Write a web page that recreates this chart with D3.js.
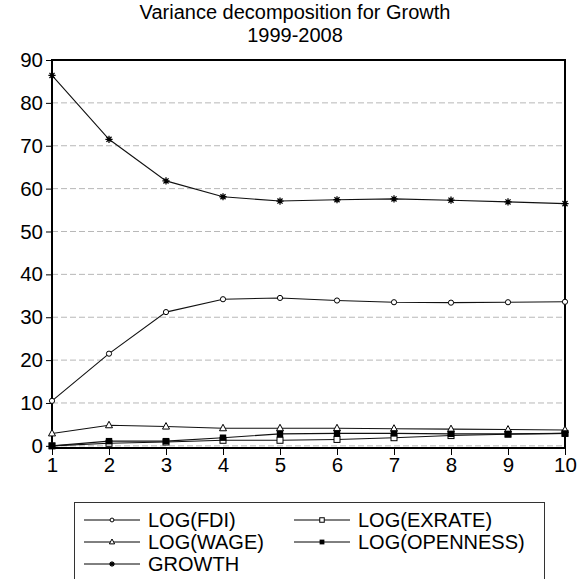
<!DOCTYPE html>
<html>
<head>
<meta charset="utf-8">
<script src="https://cdn.jsdelivr.net/npm/d3@7"></script>
<style>
  body { margin: 0; background: #fff; }
  svg { display: block; font-family: "Liberation Sans", Arial, sans-serif; }
</style>
</head>
<body>
<div id="chart"></div>
<script>
// Variance decomposition data
const steps = [1, 2, 3, 4, 5, 6, 7, 8, 9, 10];
const fdi = [10.5, 21.5, 31.2, 34.2, 34.5, 33.9, 33.5, 33.4, 33.5, 33.6];
const exrate = [0.0, 0.6, 0.9, 1.3, 1.3, 1.5, 1.9, 2.4, 2.7, 2.9];
const wage = [2.9, 4.8, 4.5, 4.1, 4.1, 4.1, 4.0, 3.9, 3.8, 3.7];
const openness = [0.0, 1.1, 1.1, 1.9, 2.8, 2.9, 2.9, 2.8, 2.8, 2.9];
const growth = [86.4, 71.5, 61.8, 58.1, 57.1, 57.4, 57.6, 57.3, 56.9, 56.5];
const yTicks = [0, 10, 20, 30, 40, 50, 60, 70, 80, 90];
const gridTicks = [0, 10, 20, 30, 40, 50, 60, 70, 80];

const seriesList = [
  { name: "LOG(FDI)", values: fdi, marker: "circle" },
  { name: "LOG(EXRATE)", values: exrate, marker: "square" },
  { name: "LOG(WAGE)", values: wage, marker: "triangle" },
  { name: "LOG(OPENNESS)", values: openness, marker: "filled" },
  { name: "GROWTH", values: growth, marker: "star" }
];

const w = 579, h = 579;
const padLeft = 52, padRight = 565, padTop = 60, padBottom = 448;

const svg = d3.select("#chart").append("svg")
  .attr("width", w).attr("height", h);

const x = d3.scaleLinear().domain([1, 10]).range([padLeft, padRight]);
const y = d3.scaleLinear().domain([-0.5, 90]).range([padBottom, padTop]);

// title
svg.append("text").attr("x", 295).attr("y", 19).attr("text-anchor", "middle")
  .attr("font-size", 20).text("Variance decomposition for Growth");
svg.append("text").attr("x", 295).attr("y", 42).attr("text-anchor", "middle")
  .attr("font-size", 20).text("1999-2008");

// gridlines
svg.append("g").selectAll("line").data(gridTicks).enter().append("line")
  .attr("x1", padLeft).attr("x2", padRight)
  .attr("y1", d => y(d)).attr("y2", d => y(d))
  .attr("stroke", "#b8b8b8").attr("stroke-width", 1)
  .attr("stroke-dasharray", "6,3");

// axes
const yAxis = d3.axisLeft(y).tickValues(yTicks).tickSize(6).tickPadding(3);
const xAxis = d3.axisBottom(x).tickValues(steps).tickSize(7).tickPadding(2)
  .tickFormat(d3.format("d"));

const gy = svg.append("g").attr("transform", "translate(" + padLeft + ",0)").call(yAxis);
gy.select(".domain").remove();
gy.selectAll("text").attr("font-size", 20.5).attr("fill", "#000");
gy.selectAll("line").attr("stroke", "#000");

const gx = svg.append("g").attr("transform", "translate(0," + padBottom + ")").call(xAxis);
gx.select(".domain").remove();
gx.selectAll("text").attr("font-size", 20.5).attr("fill", "#000");
gx.selectAll("line").attr("stroke", "#000");

// frame
svg.append("rect").attr("x", padLeft).attr("y", padTop)
  .attr("width", padRight - padLeft).attr("height", padBottom - padTop)
  .attr("fill", "none").attr("stroke", "#000").attr("stroke-width", 2);

// markers
function drawMarker(g, type, cx, cy, k) {
  k = k || 1;
  if (type === "circle") {
    g.append("circle").attr("cx", cx).attr("cy", cy).attr("r", 2.6 * k)
      .attr("fill", "#fff").attr("stroke", "#000").attr("stroke-width", 1);
  } else if (type === "square") {
    g.append("rect").attr("x", cx - 3 * k).attr("y", cy - 3 * k).attr("width", 6 * k).attr("height", 6 * k)
      .attr("fill", "#fff").attr("stroke", "#000").attr("stroke-width", 1);
  } else if (type === "filled") {
    g.append("rect").attr("x", cx - 3.2 * k).attr("y", cy - 3.2 * k).attr("width", 6.4 * k).attr("height", 6.4 * k)
      .attr("fill", "#000");
  } else if (type === "triangle") {
    g.append("path").attr("d", "M" + cx + "," + (cy - 4 * k) + "L" + (cx + 3.5 * k) + "," + (cy + 2.5 * k) +
      "L" + (cx - 3.5 * k) + "," + (cy + 2.5 * k) + "Z")
      .attr("fill", "#fff").attr("stroke", "#000").attr("stroke-width", 1);
  } else if (type === "star") {
    const r = 3.6 * k;
    let d = "";
    for (let i = 0; i < 4; i++) {
      const a = i * Math.PI / 4;
      d += "M" + (cx - r * Math.cos(a)) + "," + (cy - r * Math.sin(a)) +
           "L" + (cx + r * Math.cos(a)) + "," + (cy + r * Math.sin(a));
    }
    g.append("path").attr("d", d).attr("stroke", "#000").attr("stroke-width", 1.3);
  }
}

const line = d3.line().x((d, i) => x(steps[i])).y(d => y(d));

seriesList.forEach(s => {
  const g = svg.append("g");
  g.append("path").datum(s.values).attr("d", line)
    .attr("fill", "none").attr("stroke", "#111").attr("stroke-width", 1.1);
  s.values.forEach((v, i) => drawMarker(g, s.marker, x(steps[i]), y(v)));
});

// legend
svg.append("rect").attr("x", 74.5).attr("y", 502.5).attr("width", 470).attr("height", 100)
  .attr("fill", "#fff").attr("stroke", "#333").attr("stroke-width", 1);

const legendPos = [
  { lx: 84, ly: 520 }, { lx: 294, ly: 520 },
  { lx: 84, ly: 542 }, { lx: 294, ly: 542 },
  { lx: 84, ly: 564 }
];
seriesList.forEach((s, i) => {
  const p = legendPos[i];
  const g = svg.append("g");
  g.append("line").attr("x1", p.lx).attr("x2", p.lx + 56)
    .attr("y1", p.ly).attr("y2", p.ly).attr("stroke", "#000").attr("stroke-width", 1);
  drawMarker(g, s.marker, p.lx + 28, p.ly, 0.75);
  g.append("text").attr("x", p.lx + 64).attr("y", p.ly + 7)
    .attr("font-size", 20).text(s.name);
});
</script>
</body>
</html>
